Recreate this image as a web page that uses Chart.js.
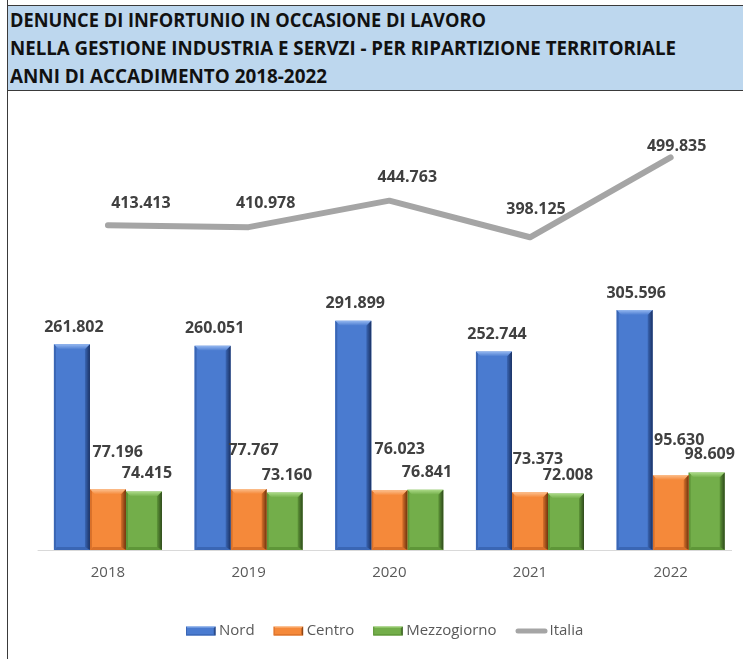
<!DOCTYPE html>
<html><head><meta charset="utf-8">
<script src="https://cdn.jsdelivr.net/npm/chart.js@4.4.0/dist/chart.umd.min.js"></script>
<style>
html,body{margin:0;padding:0;background:#fff;width:743px;height:659px;overflow:hidden;}
#frame{position:absolute;left:7px;top:0;width:736px;height:659px;border-left:1px solid #3a3a3a;box-sizing:border-box;}
#title{position:absolute;left:7px;top:5px;width:736px;height:86px;background:#BDD7EE;border-top:1px solid #3a3a3a;border-bottom:1px solid #3a3a3a;border-left:1px solid #3a3a3a;box-sizing:border-box;}
.tl{position:absolute;left:2px;font:bold 20px "Open Sans";color:#111;white-space:nowrap;transform-origin:0 50%;line-height:28px;height:28px;}
#wrap{position:absolute;left:9px;top:92px;width:734px;height:567px;}
</style></head>
<body>
<div id="frame"></div>
<div id="title">
  <div class="tl" style="top:0px">DENUNCE DI INFORTUNIO IN OCCASIONE DI LAVORO</div>
  <div class="tl" style="top:28px">NELLA GESTIONE INDUSTRIA E SERVZI - PER RIPARTIZIONE TERRITORIALE</div>
  <div class="tl" style="top:56px">ANNI DI ACCADIMENTO 2018-2022</div>
</div>
<div id="wrap"><canvas id="c" width="734" height="567"></canvas></div>
<script>
// ---- data ----
const categories = ['2018', '2019', '2020', '2021', '2022'];
const seriesNames = ['Nord', 'Centro', 'Mezzogiorno', 'Italia'];
const nord = [261802, 260051, 291899, 252744, 305596];
const centro = [77196, 77767, 76023, 73373, 95630];
const mezzogiorno = [74415, 73160, 76841, 72008, 98609];
const italia = [413413, 410978, 444763, 398125, 499835];

// ---- title width fit (style) ----
(function(){
  const targets = [476, 666, 317];
  document.querySelectorAll('.tl').forEach((el, i) => {
    const w = el.getBoundingClientRect().width;
    el.style.transform = 'scaleX(' + (targets[i] / w) + ')';
  });
})();

// ---- styles ----
const palette = [
  {main:'#4A7BD0', light:'#95B8F0', dark:'#1A3163', side:'#3A66B4'},
  {main:'#F5893A', light:'#FCC08F', dark:'#6E340D', side:'#D8702A'},
  {main:'#73AE4A', light:'#ACDB88', dark:'#2F4A1C', side:'#5E9638'}
];
const labelOffsets = [
  [[2,-17],[2,-17],[2,-17],[3,-17],[1.5,-17]],
  [[9.7,-37.4],[5,-38.7],[10.4,-40.6],[8,-33.3],[8.5,-34.3]],
  [[3,-17.7],[2.3,-16.7],[1.7,-17.3],[2,-17.7],[3,-17.7]],
  [[33,-22],[17,-24],[18,-23],[6,-28],[6,-11]]
];
function fmt(v){ return String(v).replace(/\B(?=(\d{3})+(?!\d))/g, '.'); }

function bevel(ctx, L, T, R, B, p, b){
  ctx.save();
  let g = ctx.createLinearGradient(0, T, 0, T + b);
  g.addColorStop(0, p.light); g.addColorStop(1, p.main);
  ctx.fillStyle = g;
  ctx.beginPath(); ctx.moveTo(L, T); ctx.lineTo(R, T); ctx.lineTo(R - b, T + b); ctx.lineTo(L + b, T + b); ctx.closePath(); ctx.fill();
  ctx.fillStyle = p.side;
  const bl = Math.max(1, b * 0.4);
  ctx.beginPath(); ctx.moveTo(L, T); ctx.lineTo(L + bl, T + bl); ctx.lineTo(L + bl, B - bl); ctx.lineTo(L, B); ctx.closePath(); ctx.fill();
  const bb = Math.max(1, b * 0.6);
  ctx.beginPath(); ctx.moveTo(L, B); ctx.lineTo(R, B); ctx.lineTo(R - bb, B - bb); ctx.lineTo(L + bb, B - bb); ctx.closePath(); ctx.fill();
  g = ctx.createLinearGradient(R - b, 0, R, 0);
  g.addColorStop(0, p.side); g.addColorStop(1, p.dark);
  ctx.fillStyle = g;
  ctx.beginPath(); ctx.moveTo(R, T); ctx.lineTo(R, B); ctx.lineTo(R - b, B - bb); ctx.lineTo(R - b, T + b); ctx.closePath(); ctx.fill();
  ctx.restore();
}

const bevelPlugin = {
  id: 'bevelBars',
  beforeDatasetsDraw(chart){
    const {ctx, chartArea} = chart;
    const y0 = Math.round(chart.scales.y.getPixelForValue(0)) + 0.5;
    ctx.save();
    ctx.strokeStyle = '#D9D9D9'; ctx.lineWidth = 1;
    ctx.beginPath(); ctx.moveTo(chartArea.left, y0); ctx.lineTo(chartArea.right - 9, y0); ctx.stroke();
    ctx.restore();
  },
  afterDatasetDraw(chart, args){
    const meta = args.meta;
    if (meta.type !== 'bar') return;
    const p = palette[args.index];
    meta.data.forEach(el => {
      const {x, y, base, width} = el.getProps(['x','y','base','width'], true);
      bevel(chart.ctx, x - width/2, y, x + width/2, base, p, 5);
    });
  }
};

const labelPlugin = {
  id: 'valueLabels',
  afterDatasetsDraw(chart){
    const ctx = chart.ctx;
    ctx.save();
    ctx.font = 'bold 16px "Open Sans"';
    ctx.fillStyle = '#404040';
    ctx.textAlign = 'center';
    ctx.textBaseline = 'middle';
    chart.data.datasets.forEach((ds, i) => {
      const meta = chart.getDatasetMeta(i);
      meta.data.forEach((el, j) => {
        const o = labelOffsets[i][j];
        ctx.fillText(fmt(ds.data[j]), el.x + o[0], el.y + o[1]);
      });
    });
    ctx.restore();
  }
};

const legendPlugin = {
  id: 'customLegend',
  afterDraw(chart){
    const ctx = chart.ctx;
    ctx.save();
    ctx.font = '15px "Open Sans"';
    ctx.textBaseline = 'middle';
    ctx.textAlign = 'left';
    let x = 177;
    const yc = 539;
    chart.data.datasets.forEach((ds, i) => {
      if (i < 3) {
        const p = palette[i];
        ctx.fillStyle = p.main;
        ctx.fillRect(x, yc - 4.5, 29.5, 9);
        bevel(ctx, x, yc - 4.5, x + 29.5, yc + 4.5, p, 2);
        x += 33;
      } else {
        ctx.strokeStyle = ds.borderColor; ctx.lineWidth = 5; ctx.lineCap = 'round';
        ctx.beginPath(); ctx.moveTo(x + 2.5, yc); ctx.lineTo(x + 29.5, yc); ctx.stroke();
        x += 34;
      }
      ctx.fillStyle = '#595959';
      ctx.fillText(ds.label, x, yc);
      x += ctx.measureText(ds.label).width + 19;
    });
    ctx.restore();
  }
};

new Chart(document.getElementById('c'), {
  type: 'bar',
  data: {
    labels: categories,
    datasets: [
      {label: seriesNames[0], data: nord, backgroundColor: palette[0].main, borderWidth: 0, barPercentage: 1, categoryPercentage: 0.768, order: 2},
      {label: seriesNames[1], data: centro, backgroundColor: palette[1].main, borderWidth: 0, barPercentage: 1, categoryPercentage: 0.768, order: 2},
      {label: seriesNames[2], data: mezzogiorno, backgroundColor: palette[2].main, borderWidth: 0, barPercentage: 1, categoryPercentage: 0.768, order: 2},
      {label: seriesNames[3], data: italia, type: 'line', borderColor: '#A5A5A5', borderWidth: 6, pointRadius: 0, borderCapStyle: 'round', borderJoinStyle: 'round', tension: 0, fill: false, order: 1}
    ]
  },
  options: {
    responsive: false,
    animation: false,
    devicePixelRatio: 1,
    layout: {padding: {left: 28.6, right: 2, top: 29.9, bottom: 0}},
    plugins: {legend: {display: false}, tooltip: {enabled: false}, title: {display: false}},
    scales: {
      x: {
        grid: {display: false, drawTicks: false},
        border: {display: false},
        ticks: {color: '#595959', font: {family: 'Open Sans', size: 15}, padding: 14},
        afterFit: s => { s.height = 109; }
      },
      y: {display: false, min: 0, max: 545000}
    }
  },
  plugins: [bevelPlugin, labelPlugin, legendPlugin]
});
</script>
</body></html>
